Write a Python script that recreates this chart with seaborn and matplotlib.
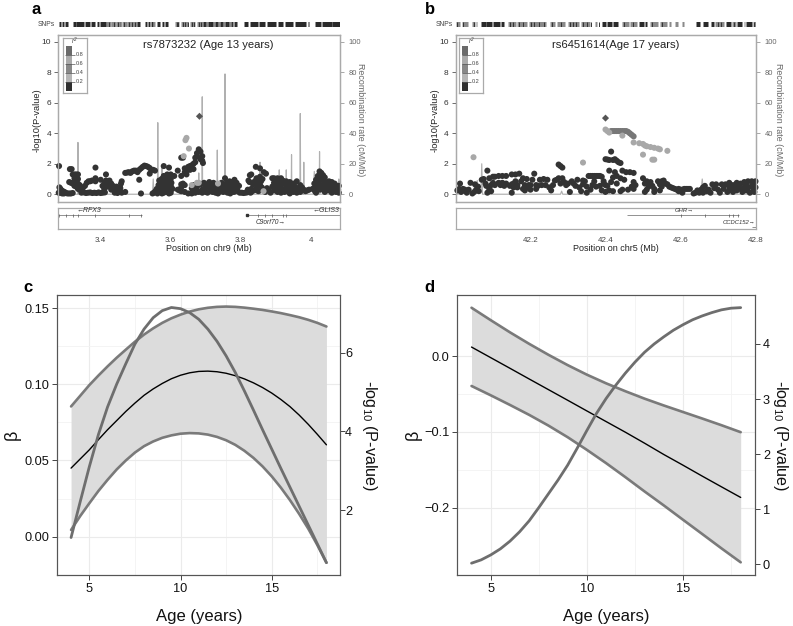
import matplotlib
matplotlib.use("Agg")
import matplotlib.pyplot as plt
import seaborn as sns

sns.set_theme(style="white")
plt.rcParams['font.family'] = ['Liberation Sans', 'DejaVu Sans']
plt.rcParams['mathtext.default'] = 'regular'

W, H = 793, 626
DARK = '#333333'
MID = '#777777'
LIGHT = '#a8a8a8'

# panel a, regional association values (position in Mb, -log10 P)
a_left = [(3.282,.45),(3.285,.35),(3.288,.25),(3.292,.2),(3.296,.15),(3.30,.1),(3.305,.05),(3.31,.05),(3.315,.05),(3.32,.08),
          (3.28,.1),(3.285,.1),(3.29,.05),(3.295,.05),(3.281,1.85),(3.312,1.65),(3.317,1.65),(3.32,1.3),(3.325,1.3),(3.33,1.3),
          (3.335,1.3),(3.325,1.05),(3.33,1.05),(3.335,1.0),(3.31,.8),(3.315,.75),(3.32,.7),(3.325,.8),(3.33,.75),(3.335,.7),
          (3.34,.6),(3.325,.55),(3.33,.5),(3.335,.35),(3.34,.3),(3.345,.4),(3.35,.45),(3.355,.55),(3.36,.75),(3.365,.85),
          (3.37,.85),(3.375,.9),(3.345,.1),(3.352,.12),(3.358,.08),(3.364,.1),(3.37,.12),(3.376,.08),(3.382,.1),(3.388,.08),
          (3.394,.12),(3.4,.08),(3.406,.1),(3.412,.12),(3.385,1.75),(3.385,1.05),(3.385,.85),(3.415,1.3),(3.4,.95),(3.415,.9),
          (3.425,.9),(3.41,.7),(3.42,.7),(3.43,.7),(3.405,.55),(3.42,.5),(3.435,.55),(3.445,.5),(3.455,.45),(3.41,.35),
          (3.43,.3),(3.44,.25),(3.45,.2),(3.46,.1),(3.47,.15),(3.46,.85),(3.458,.7),(3.456,.4),(3.44,.1),(3.448,.08)]
a_ridge = [(3.47,1.4),(3.475,1.42),(3.48,1.45),(3.485,1.4),(3.49,1.5),(3.495,1.55),(3.5,1.55),(3.505,1.45),(3.51,1.6),(3.515,1.7),
           (3.52,1.8),(3.525,1.88),(3.53,1.85),(3.535,1.8),(3.54,1.72),(3.545,1.6),(3.55,1.6),(3.555,1.55),(3.51,.95),(3.515,.05),
           (3.54,1.35),(3.548,.05)]
a_peak = [(3.552,.1),(3.556,.2),(3.56,.35),(3.562,.05),(3.565,.6),(3.568,.15),(3.57,.8),(3.572,.45),(3.574,1.0),(3.575,.25),
          (3.578,.7),(3.58,.1),(3.58,1.2),(3.582,.5),(3.585,.9),(3.585,.3),(3.588,.15),(3.59,.65),(3.59,1.05),(3.592,.4),
          (3.595,.85),(3.596,.2),(3.598,.55),(3.6,1.0),(3.6,.1),(3.602,.75),(3.605,.35),(3.57,.3),(3.575,.55),(3.565,.4),
          (3.58,.85),(3.585,.6),(3.59,.25),(3.595,.05),(3.575,.05),(3.57,.6),(3.578,1.05),(3.583,.75),
          (3.58,1.85),(3.595,1.75),(3.59,1.3),(3.6,1.3),(3.61,1.2),(3.63,1.2),(3.62,1.55),(3.63,2.4),(3.635,2.4),(3.645,1.3),
          (3.65,1.8),(3.655,1.85),(3.66,1.9),(3.665,2.0),(3.67,2.4),(3.675,2.5),(3.68,2.95),(3.685,2.8),(3.69,2.5),(3.69,2.2),
          (3.692,2.05),(3.685,2.3),(3.645,1.55),(3.64,1.45),(3.64,1.7),(3.655,1.6),(3.665,1.65),(3.67,2.1),(3.675,2.7),
          (3.63,.65),(3.635,.7),(3.64,.6),(3.63,.45),(3.62,.3),(3.625,.25),(3.63,.2),(3.64,.15),(3.65,.05),(3.66,.1),(3.67,.1),
          (3.567,.9),(3.573,.75),(3.577,.4),(3.581,.25),(3.586,.45),(3.589,.8),(3.593,.6),(3.597,.35),(3.601,.5),(3.563,.2)]
a_mid = [(3.66,.4),(3.665,.6),(3.67,.25),(3.675,.5),(3.68,.15),(3.685,.65),(3.69,.3),(3.695,.75),(3.7,.5),(3.705,.1),
         (3.71,.8),(3.712,.35),(3.715,.6),(3.72,.15),(3.722,.75),(3.725,.45),(3.73,.25),(3.732,.6),(3.735,.05),(3.74,.55),
         (3.742,.35),(3.745,.75),(3.75,.15),(3.752,.55),(3.755,1.05),(3.757,.35),(3.76,.75),(3.762,.1),(3.765,.5),(3.768,.85),
         (3.77,.3),(3.775,.8),(3.775,.6),(3.78,.15),(3.782,.95),(3.785,.5),(3.788,.75),(3.79,.3),(3.795,.55),(3.797,.1),
         (3.70,.15),(3.7,.65),(3.715,.2),(3.73,.4),(3.745,.2),(3.76,.3),(3.77,.05),(3.785,.2),(3.69,.1),(3.675,.2),(3.66,.05),
         (3.803,.1),(3.808,.08),(3.813,.1),(3.818,.12),(3.823,.15),(3.828,.1),
         (3.695,.35),(3.708,.5),(3.718,.4),(3.728,.1),(3.738,.2),(3.748,.4),(3.758,.6),(3.767,.2),(3.772,.45),(3.779,.35),(3.786,.62)]
a_right = [(3.822,.9),(3.83,1.3),(3.826,1.25),(3.843,1.8),(3.855,1.7),(3.866,1.45),(3.872,1.35),(3.855,1.15),(3.845,1.05),(3.84,.85),
           (3.85,.9),(3.835,.65),(3.845,.7),(3.855,.6),(3.83,.35),(3.838,.25),(3.845,.4),(3.85,.2),(3.86,.45),(3.865,.3),
           (3.87,.15),(3.875,.4),(3.88,.25),(3.825,.8),(3.83,.15),(3.82,.3),(3.858,.85),(3.862,1.0),(3.885,.1),
           (3.89,1.05),(3.895,1.05),(3.9,1.0),(3.905,1.05),(3.91,.95),(3.915,1.05),(3.895,.75),(3.905,.8),(3.915,.7),(3.92,.9),
           (3.89,.5),(3.9,.45),(3.91,.5),(3.92,.35),(3.925,.7),(3.93,.85),(3.935,.55),(3.94,.8),(3.945,.3),(3.95,.7),
           (3.955,.5),(3.96,.85),(3.965,.25),(3.97,.6),(3.975,.45),(3.895,.25),(3.905,.15),(3.915,.1),(3.925,.15),(3.935,.25),
           (3.94,.05),(3.95,.15),(3.96,.1),(3.97,.15),(3.98,.3),(3.985,.2),(3.99,.25),(3.995,.3),
           (4.005,.35),(4.01,.7),(4.012,.2),(4.015,.95),(4.018,.5),(4.02,1.2),(4.022,.75),(4.025,1.5),(4.027,.3),(4.03,1.4),
           (4.03,1.05),(4.032,.6),(4.035,1.25),(4.038,.85),(4.04,1.1),(4.04,.15),(4.045,.45),(4.045,.7),(4.05,.25),(4.052,.85),
           (4.055,.55),(4.06,.8),(4.06,.1),(4.065,.35),(4.068,.7),(4.07,.6),(4.072,.15),(4.075,.5),(4.078,.3),(4.08,.55),
           (4.08,.1),(4.015,.1),(4.025,.6),(4.035,.4),(4.02,.35),
           (3.9,.65),(3.91,.3),(3.93,.4),(3.938,.15),(3.948,.5),(3.958,.3),(3.968,.45),(4.01,.4),(4.028,.95),(4.042,.6),(4.058,.4),(4.07,.35)]
a_dark = a_left + a_ridge + a_peak + a_mid + a_right
a_light = [(3.642,3.55),(3.645,3.7),(3.652,3.0),(3.637,2.5),(3.66,.6),(3.675,.75),(3.68,.75),(3.735,.7),(3.865,.2)]
a_lead = [(3.682,5.12)]
a_recomb_pos = [3.28,3.334,3.335,3.336,3.548,3.55,3.552,3.562,3.563,3.564,3.574,3.575,3.576,3.679,3.68,3.681,3.689,3.69,3.691,
                3.732,3.733,3.734,3.754,3.755,3.756,3.854,3.855,3.856,3.909,3.91,3.911,3.929,3.93,3.931,3.944,3.945,3.946,
                3.969,3.97,3.971,3.979,3.98,3.981,4.007,4.01,4.013,4.024,4.025,4.026,4.078,4.08,4.082]
a_recomb_rate = [0,0,34,0,0,10,0,0,47,0,0,18,0,0,14,0,0,64,0,0,29,0,0,79,0,0,21,0,0,16,0,0,16,0,0,26,0,0,53,0,0,21,0,0,15,0,0,28,0,0,10,6]
a_snp_dark = [(3.282,3.286),(3.289,3.295),(3.297,3.307),(3.320,3.328),(3.330,3.352),(3.354,3.370),(3.372,3.384),(3.389,3.396),
              (3.398,3.414),(3.455,3.458),(3.505,3.512),(3.527,3.532),(3.535,3.540),(3.543,3.55),(3.562,3.57),(3.574,3.58),
              (3.585,3.593),(3.693,3.70),(3.705,3.72),(3.725,3.735),(3.74,3.75),(3.755,3.765),(3.772,3.778),(3.782,3.79),
              (3.808,3.82),(3.825,3.85),(3.853,3.87),(3.875,3.90),(3.905,3.92),(3.925,3.95),(3.955,3.985),(3.992,3.995),
              (4.0,4.002),(4.012,4.03),(4.033,4.06),(4.062,4.082)]
a_snp_mid = [(3.416,3.428),(3.43,3.444),(3.445,3.455),(3.46,3.474),(3.475,3.505),(3.55,3.555),(3.612,3.625),(3.63,3.65),(3.655,3.67),(3.675,3.693),
             (3.70,3.705),(3.72,3.725),(3.735,3.74),(3.75,3.755),(3.765,3.772)]
a_snp_lines = [3.424,3.437,3.449,3.466,3.482,3.49,3.498,3.617,3.622,3.636,3.642,3.648,3.66,3.666,3.68,3.686,3.698,3.712,3.731,3.746,3.76,3.776,3.785]

# panel b, regional association values
b_left = [(42.005,.25),(42.01,.35),(42.012,.7),(42.015,.15),(42.02,.35),(42.022,.25),(42.025,.3),(42.03,.1),(42.035,.3),(42.04,.75),
          (42.045,.05),(42.05,.15),(42.052,.65),(42.055,.3),(42.06,.5),(42.062,.2),(42.07,.95),(42.075,1.0),(42.08,.7),(42.082,.55),
          (42.085,1.55),(42.085,.1),(42.09,.35),(42.09,1.05),(42.095,.6),(42.095,.2),(42.1,1.15),(42.1,.75),
          (42.105,1.15),(42.115,1.2),(42.125,1.2),(42.135,1.2),(42.105,.6),(42.115,.75),(42.12,.6),(42.125,.75),(42.13,.55),(42.135,.7)]
b_center = [(42.15,1.3),(42.16,1.3),(42.17,1.35),(42.145,.55),(42.15,.65),(42.155,.7),(42.16,.85),(42.165,.6),(42.15,.1),(42.155,.45),
            (42.165,.45),(42.175,.85),(42.18,1.05),(42.185,.6),(42.19,1.0),(42.195,.6),(42.18,.35),(42.185,.25),(42.19,.45),(42.2,.3),
            (42.2,.6),(42.205,.95),(42.21,1.35),(42.215,.6),(42.215,.35),(42.22,.55),(42.225,.95),(42.23,.6),(42.235,1.0),(42.24,.6),
            (42.245,.95),(42.25,.45),(42.255,.25),(42.26,.6),(42.265,.9),(42.27,.95),(42.275,1.05),(42.275,1.95),(42.28,1.85),(42.285,1.75),
            (42.285,1.05),(42.28,.7),(42.29,.8),(42.295,.6),(42.3,.7),(42.305,.15),(42.31,.85),(42.315,.7),(42.32,.55),(42.325,.95),
            (42.33,.45),(42.335,.2),(42.34,.65),(42.345,.85),(42.35,.5),(42.36,.3),(42.35,.1),(42.365,.6),(42.37,.85),(42.375,.5),
            (42.34,.9),(42.355,1.2),(42.36,1.2),(42.365,1.2),(42.37,1.2),(42.375,1.2),(42.38,1.2),(42.385,1.2),(42.39,1.15),(42.385,.55),
            (42.39,.25),(42.395,.85),(42.4,.6),(42.395,.7)]
b_gene = [(42.4,2.3),(42.405,2.28),(42.41,2.25),(42.42,2.25),(42.415,2.8),(42.425,2.3),(42.43,2.2),(42.435,2.1),(42.44,2.05),(42.41,1.55),
          (42.425,1.45),(42.445,1.55),(42.455,1.45),(42.465,1.45),(42.475,1.4),(42.41,.25),(42.42,.2),(42.4,.15),(42.43,.7),(42.405,.55),
          (42.415,.8),(42.42,1.1),(42.43,1.2),(42.44,1.05),(42.45,.95),(42.44,.2),(42.445,.3),(42.46,.3),(42.475,.8),(42.48,.6),
          (42.47,.5),(42.475,.35),(42.5,1.05),(42.505,.7),(42.51,.85),(42.515,.5),(42.52,.8),(42.525,.55),(42.53,.35),(42.54,.85),
          (42.545,.65),(42.55,.85),(42.555,.9),(42.56,.7),(42.565,.65),(42.505,.15),(42.51,.3),(42.53,.15),(42.545,.25),(42.55,.5),
          (42.57,.5),(42.575,.45),(42.58,.4),(42.585,.35),(42.59,.3),(42.595,.35),(42.6,.3),(42.605,.3),(42.61,.35),(42.615,.35),
          (42.62,.35),(42.625,.35),(42.595,.2),(42.605,.1)]
b_right = [(42.635,.05),(42.64,.1),(42.645,.25),(42.65,.1),(42.655,.3),(42.66,.1),(42.66,.45),(42.665,.55),(42.67,.2),(42.675,.3),
           (42.68,.1),(42.685,.65),(42.69,.4),(42.695,.65),(42.7,.3),(42.705,.1),(42.71,.65),(42.715,.35),(42.72,.65),(42.725,.15),
           (42.73,.45),(42.73,.75),(42.735,.3),(42.74,.6),(42.74,.15),(42.745,.4),(42.75,.75),(42.75,.25),(42.755,.55),(42.76,.7),
           (42.76,.35),(42.765,.15),(42.77,.8),(42.77,.45),(42.775,.6),(42.775,.25),(42.78,.85),(42.78,.4),(42.785,.1),(42.79,.85),
           (42.79,.55),(42.795,.3),(42.797,.75),(42.797,.15),(42.8,.45),(42.8,.85)]
b_dark = b_left + b_center + b_gene + b_right
b_light = [(42.048,2.43),(42.34,2.08),(42.4,4.25),(42.405,4.15),(42.41,4.05),(42.445,3.85),(42.475,3.4),(42.5,2.6),(42.525,2.27),(42.53,2.27),
           (42.49,3.35),(42.5,3.3),(42.505,3.2),(42.51,3.15),(42.52,3.1),(42.53,3.05),(42.54,3.0),(42.545,2.95),(42.565,2.85)]
b_medium = [(42.415,4.15),(42.42,4.15),(42.425,4.15),(42.43,4.15),(42.435,4.15),(42.44,4.15),(42.445,4.15),(42.45,4.15),(42.455,4.15),
            (42.46,4.1),(42.465,4.0),(42.47,3.9),(42.475,3.8)]
b_lead = [(42.4,5.0)]
b_recomb_pos = [42.0,42.05,42.058,42.062,42.068,42.07,42.072,42.28,42.283,42.286,42.4,42.403,42.406,42.5,42.503,42.506,42.654,42.658,42.662,42.8]
b_recomb_rate = [0,1,9,1,1,20,0,0,2,0,0,3,0,0,2,0,0,10,0,0]
b_snp_dark = [(42.069,42.08),(42.082,42.098),(42.101,42.118),(42.122,42.128),(42.39,42.402),(42.405,42.418),(42.421,42.434),
              (42.49,42.502),(42.504,42.511),(42.64,42.652),(42.66,42.672),(42.68,42.69),(42.72,42.735),(42.75,42.765),(42.775,42.79)]
b_snp_mid = [(42.0,42.012),(42.016,42.033),(42.045,42.051),(42.054,42.058),(42.14,42.16),(42.164,42.19),(42.195,42.24),(42.251,42.265),
             (42.27,42.293),(42.30,42.33),(42.335,42.358),(42.372,42.376),(42.443,42.462),(42.466,42.483),(42.518,42.54),(42.545,42.563),
             (42.57,42.575),(42.585,42.592),(42.605,42.608),(42.692,42.716),(42.738,42.747),(42.768,42.772),(42.792,42.8)]
b_snp_lines = [42.004,42.02,42.048,42.145,42.152,42.17,42.18,42.2,42.21,42.222,42.235,42.256,42.28,42.305,42.312,42.322,42.34,42.35,
               42.362,42.382,42.45,42.472,42.525,42.55,42.7,42.708,42.742,42.796]

r2_labels = [0.2, 0.4, 0.6, 0.8]
r2_colors = ['#303030', '#b5b5b5', '#888888', '#aaaaaa', '#6a6a6a']

# panel c
c_age = [4,4.5,5,5.5,6,6.5,7,7.5,8,8.5,9,9.5,10,10.5,11,11.5,12,12.5,13,13.5,14,14.5,15,15.5,16,16.5,17,17.5,18]
c_upper = [.0855,.0925,.0995,.1058,.1118,.1175,.1228,.1280,.1327,.1368,.1404,.1434,.1458,.1478,.1493,.1503,.1509,.1511,.1509,.1504,.1497,.1489,.1479,.1468,.1455,.1441,.1424,.1404,.1380]
c_beta = [.0450,.0510,.0570,.0637,.0702,.0762,.0822,.0877,.0928,.0970,.1006,.1037,.1060,.1076,.1085,.1087,.1083,.1073,.1057,.1036,.1010,.0979,.0943,.0901,.0854,.0799,.0738,.0672,.0603]
c_lower = [.0044,.0135,.0219,.0300,.0373,.0441,.0500,.0552,.0594,.0625,.0649,.0665,.0676,.0680,.0678,.0670,.0655,.0633,.0603,.0564,.0517,.0461,.0396,.0322,.0240,.0150,.0053,-.0055,-.0171]
c_logp = [1.30,2.21,3.10,3.92,4.62,5.20,5.72,6.22,6.60,6.89,7.07,7.15,7.12,7.02,6.85,6.60,6.29,5.92,5.50,5.03,4.54,4.04,3.55,3.06,2.58,2.10,1.62,1.14,0.66]

# panel d
d_age = [4,5,6,7,8,9,10,11,12,13,14,15,16,17,18]
d_upper = [.0636,.0472,.0312,.0160,.0016,-.0120,-.0246,-.0360,-.0464,-.0562,-.0652,-.0738,-.0824,-.0912,-.1004]
d_beta = [.0118,-.0022,-.0162,-.0303,-.0443,-.0583,-.0724,-.0864,-.1004,-.1149,-.1298,-.1439,-.1583,-.1724,-.1864]
d_lower = [-.0395,-.0518,-.0645,-.0776,-.0917,-.107,-.1237,-.1412,-.1596,-.1785,-.1969,-.2158,-.2346,-.2535,-.2719]
d_logp_age = c_age
d_logp = [.02,.08,.17,.28,.42,.59,.79,1.03,1.28,1.53,1.80,2.11,2.43,2.74,3.01,3.25,3.47,3.67,3.85,4.00,4.13,4.25,4.35,4.44,4.51,4.57,4.62,4.65,4.66]


def px_axes(fig, left, top, right, bottom):
    return fig.add_axes([left / W, 1 - bottom / H, (right - left) / W, (bottom - top) / H])


def scatter(ax, pts, color, marker='o', size=19):
    sns.scatterplot(x=[p[0] for p in pts], y=[p[1] for p in pts], ax=ax, color=color, marker=marker,
                    s=size, edgecolor='none', clip_on=False, legend=False)


def regional(fig, left, right, xlim, xticks, xticklabels, chrom, title, dark, light, lead, rec_pos, rec_rate,
             snp_dark, snp_mid, snp_lines, legend_left, ylab_x, rec_x, medium=()):
    ax = px_axes(fig, left, 34.5, right, 202)
    rec = ax.twinx()
    sns.lineplot(x=rec_pos, y=rec_rate, ax=rec, color='#b0b0b0', lw=0.85, sort=False, estimator=None)
    rec.set_ylim(-5.1, 104.9)
    rec.set_yticks([0, 20, 40, 60, 80, 100])
    rec.tick_params(axis='y', labelsize=5.4, labelcolor='#666666', color='#999999', length=3, width=0.6, pad=3.5, right=True)
    rec.set_ylabel('Recombination rate (cM/Mb)', rotation=270, fontsize=6.4, color='#666666', va='center')
    rec.yaxis.set_label_coords(rec_x, 0.49)
    rec.grid(False)
    ax.set_zorder(rec.get_zorder() + 1)
    ax.patch.set_visible(False)

    scatter(ax, dark, DARK)
    if medium:
        scatter(ax, medium, MID)
    scatter(ax, light, LIGHT)
    scatter(ax, lead, '#555555', marker='D', size=13)
    ax.set_xlim(*xlim)
    ax.set_ylim(-0.51, 10.49)
    ax.set_yticks(range(0, 11, 2))
    ax.set_xticks([])
    ax.tick_params(axis='y', labelsize=6, labelcolor='#333333', color='#555555', length=3, width=0.6, pad=2, left=True)
    ax.set_ylabel('-log10(P-value)', fontsize=6.7, color='#222222', va='center')
    ax.yaxis.set_label_coords(ylab_x, 0.49)
    ax.text(0.535, 0.94, title, transform=ax.transAxes, ha='center', va='center', fontsize=8.1, color='#222222')
    for sp in list(ax.spines.values()) + list(rec.spines.values()):
        sp.set_color('#aaaaaa')
        sp.set_linewidth(0.9)

    # legend block
    leg = px_axes(fig, legend_left, 37.5, legend_left + 24.5, 92.5)
    leg.set_xlim(0, 1)
    leg.set_ylim(-0.22, 5.9)
    bottoms = [0, 1, 2, 3, 4]
    leg.bar([0.25] * 5, [1] * 5, width=0.25, bottom=bottoms, color=r2_colors, linewidth=0)
    leg.hlines([1, 2, 3, 4], 0.12, 0.5, color='#555555', lw=0.5)
    for level, v in zip([1, 2, 3, 4], r2_labels):
        leg.text(0.54, level, f'{v}', fontsize=4.0, va='center', color='#444444')
    leg.text(0.5, 5.45, 'r$^2$', fontsize=4.8, ha='center', va='center', color='#444444', style='italic')
    leg.set_xticks([])
    leg.set_yticks([])
    for sp in leg.spines.values():
        sp.set_color('#aaaaaa')
        sp.set_linewidth(0.9)

    # SNP strip
    strip = px_axes(fig, left, 22, right, 27)
    strip.set_xlim(*xlim)
    strip.set_ylim(0, 1)
    strip.axis('off')
    strip.hlines([0.5] * len(snp_mid), [s[0] for s in snp_mid], [s[1] for s in snp_mid], color='#8a8a8a', lw=3.6)
    strip.hlines([0.5] * len(snp_dark), [s[0] for s in snp_dark], [s[1] for s in snp_dark], color='#2a2a2a', lw=3.6)
    strip.vlines(snp_lines, 0, 1, color='#333333', lw=0.7)
    fig.text((left - 3) / W, 1 - 24.5 / H, 'SNPs', ha='right', va='center', fontsize=4.9, color='#444444')

    # gene panel
    gene = px_axes(fig, left, 207.5, right, 229)
    gene.set_xlim(*xlim)
    gene.set_ylim(0, 1)
    gene.set_xticks(xticks)
    gene.set_xticklabels(xticklabels)
    gene.set_yticks([])
    gene.tick_params(axis='x', labelsize=5.8, labelcolor='#444444', length=0, pad=6)
    gene.set_xlabel(f'Position on {chrom} (Mb)', fontsize=6.5, color='#222222', va='center')
    gene.xaxis.set_label_coords(0.535, -0.884)
    for sp in gene.spines.values():
        sp.set_color('#aaaaaa')
        sp.set_linewidth(0.9)
    return gene


sns.set_style("white")
plt.rcParams['font.family'] = ['Liberation Sans', 'DejaVu Sans']
plt.rcParams['mathtext.default'] = 'regular'
fig = plt.figure(figsize=(W / 100, H / 100), dpi=100)

gene_a = regional(fig, 58, 339.5, (3.278, 4.082), [3.4, 3.6, 3.8, 4.0], ['3.4', '3.6', '3.8', '4'], 'chr9',
                  'rs7873232 (Age 13 years)', a_dark, a_light, a_lead, a_recomb_pos, a_recomb_rate,
                  a_snp_dark, a_snp_mid, a_snp_lines, 62.5, -0.0746, 1.075)
gene_a.hlines(0.63, 3.279, 3.517, color='#666666', lw=0.5)
gene_a.vlines([3.281, 3.30, 3.32, 3.335, 3.385, 3.48, 3.515], 0.56, 0.7, color='#555555', lw=0.5)
gene_a.text(3.365, 0.85, '←RFX3', fontsize=5.0, style='italic', ha='center', va='center', color='#333333')
gene_a.hlines(0.63, 3.817, 4.082, color='#666666', lw=0.5)
gene_a.vlines([3.848, 3.868, 3.888, 3.92, 3.928], 0.56, 0.7, color='#555555', lw=0.5)
gene_a.plot([3.817], [0.63], 's', ms=1.5, color='#333333')
gene_a.text(4.082, 0.85, '←GLIS3', fontsize=5.0, style='italic', ha='right', va='center', color='#333333')
gene_a.text(3.885, 0.3, 'C9orf70→', fontsize=4.8, style='italic', ha='center', va='center', color='#333333')

gene_b = regional(fig, 455.5, 755.5, (42.0, 42.8), [42.2, 42.4, 42.6, 42.8], ['42.2', '42.4', '42.6', '42.8'], 'chr5',
                  'rs6451614(Age 17 years)', b_dark, b_light, b_lead, b_recomb_pos, b_recomb_rate,
                  b_snp_dark, b_snp_mid, b_snp_lines, 458.7, -0.068, 1.075, medium=b_medium)
gene_b.hlines(0.63, 42.456, 42.756, color='#666666', lw=0.5)
gene_b.vlines([42.6, 42.665, 42.728, 42.74, 42.752], 0.56, 0.7, color='#555555', lw=0.5)
gene_b.text(42.61, 0.85, 'GHR→', fontsize=4.2, style='italic', ha='center', va='center', color='#333333')
gene_b.hlines(0.1, 42.79, 42.8, color='#666666', lw=0.5)
gene_b.text(42.8, 0.3, 'CCDC152→', fontsize=4.2, style='italic', ha='right', va='center', color='#333333')


def trend(fig, left, right, xlim, ylim, y2lim, yticks, ylabels, y2ticks, age, upper, beta, lower, p_age, logp, y2pad, y2tickpad, ypad):
    ax = px_axes(fig, left, 295.3, right, 575.3)
    ax.fill_between(age, lower, upper, color='#dcdcdc', lw=0, zorder=2)
    sns.lineplot(x=age, y=upper, ax=ax, color='#7a7a7a', lw=1.9, zorder=3)
    sns.lineplot(x=age, y=lower, ax=ax, color='#7a7a7a', lw=1.9, zorder=3)
    sns.lineplot(x=age, y=beta, ax=ax, color='black', lw=1.0, zorder=4)
    ax.set_xlim(*xlim)
    ax.set_ylim(*ylim)
    ax.set_xticks([5, 10, 15])
    ax.set_xticks([7.5, 12.5, 17.5], minor=True)
    ax.set_yticks(yticks)
    ax.set_yticklabels(ylabels)
    minor = [(a + b) / 2 for a, b in zip(yticks[:-1], yticks[1:])]
    ax.set_yticks(minor, minor=True)
    ax.grid(which='major', color='#ebebeb', lw=0.8, zorder=0)
    ax.grid(which='minor', color='#f3f3f3', lw=0.6, zorder=0)
    ax.set_axisbelow(True)
    ax.tick_params(axis='both', which='major', labelsize=9.2, labelcolor='#111111', color='#444444',
                   length=3.5, width=0.7, pad=2, left=True, bottom=True)
    ax.tick_params(axis='both', which='minor', length=0)
    ax.set_xlabel('Age (years)', fontsize=12, color='#111111', labelpad=10)
    ax.set_ylabel('β', fontsize=13, color='#111111', labelpad=ypad)

    right_ax = ax.twinx()
    sns.lineplot(x=p_age, y=logp, ax=right_ax, color='#6e6e6e', lw=2.0, zorder=5)
    right_ax.set_ylim(*y2lim)
    right_ax.set_yticks(y2ticks)
    right_ax.grid(False)
    right_ax.tick_params(axis='y', labelsize=9.2, labelcolor='#111111', color='#444444', length=3.5, width=0.7, pad=y2tickpad, right=True)
    right_ax.set_ylabel('-log$_{10}$ (P-value)', rotation=270, fontsize=11.6, color='#111111', labelpad=y2pad)
    for a in (ax, right_ax):
        for sp in a.spines.values():
            sp.set_color('#555555')
            sp.set_linewidth(0.8)


trend(fig, 57.3, 340.3, (3.245, 18.76), (-0.0254, 0.1585), (0.34, 7.46), [0, .05, .10, .15],
      ['0.00', '0.05', '0.10', '0.15'], [2, 4, 6], c_age, c_upper, c_beta, c_lower, c_age, c_logp, 19, 0, 3)
trend(fig, 457.3, 755.3, (3.26, 18.76), (-0.289, 0.080), (-0.2, 4.884), [-.2, -.1, 0],
      ['−0.2', '−0.1', '0.0'], [0, 1, 2, 3, 4], d_age, d_upper, d_beta, d_lower, d_logp_age, d_logp, 14, 2, 2)

fig.text(32 / W, 1 - 10 / H, 'a', fontsize=12, fontweight='bold', va='center', color='black')
fig.text(425 / W, 1 - 10 / H, 'b', fontsize=12, fontweight='bold', va='center', color='black')
fig.text(23 / W, 1 - 287 / H, 'c', fontsize=12, fontweight='bold', va='center', color='black')
fig.text(424 / W, 1 - 287 / H, 'd', fontsize=12, fontweight='bold', va='center', color='black')

plt.savefig('out.png', dpi=100)
plt.close()
